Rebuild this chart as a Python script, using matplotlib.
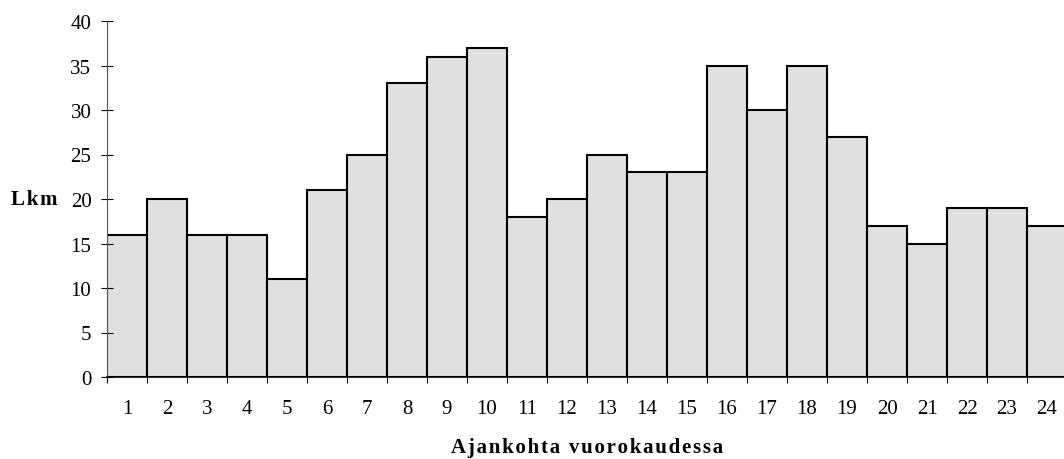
import matplotlib.pyplot as plt
from matplotlib.ticker import MultipleLocator, FixedLocator

plt.rcParams['font.family'] = ['Liberation Serif', 'DejaVu Serif']

tunnit = list(range(1, 25))
lkm = [16, 20, 16, 16, 11, 21, 25, 33, 36, 37, 18, 20,
       25, 23, 23, 35, 30, 35, 27, 17, 15, 19, 19, 17]


def harva(teksti):
    # leveämpi kirjainväli kuten alkuperäisessä
    return '\u200a'.join(teksti)


fig = plt.figure(figsize=(10.64, 4.6), dpi=100)
ax = fig.add_axes([107 / 1064, 82 / 460, 960 / 1064, 356 / 460])

ax.bar(tunnit, lkm, width=1.0, color='#e0e0e0', edgecolor='black', linewidth=1.5)

ax.set_xlim(0.5, 24.5)
ax.set_ylim(0, 40)
ax.yaxis.set_major_locator(MultipleLocator(5))
ax.set_xticks(tunnit)
ax.xaxis.set_minor_locator(FixedLocator([t - 0.5 for t in tunnit] + [24.5]))

for s in ['top', 'right']:
    ax.spines[s].set_visible(False)
ax.spines['left'].set_color('#555555')
ax.spines['left'].set_linewidth(0.8)
ax.spines['bottom'].set_linewidth(1.2)

ax.tick_params(axis='x', which='major', length=0, pad=16, labelsize=15)
ax.tick_params(axis='x', which='minor', direction='out', length=4.5, width=0.8)
ax.tick_params(axis='y', direction='inout', length=8.5, width=0.8, pad=7, labelsize=15)

ax.set_ylabel(harva('Lkm'), rotation=0, fontsize=15, fontweight='bold', ha='right', va='center')
ax.yaxis.set_label_coords(-0.052, 0.5)
fig.text(587 / 1064, 12 / 460, harva('Ajankohta vuorokaudessa'), ha='center', va='center',
         fontsize=15, fontweight='bold')

fig.savefig('out.png', dpi=100)
